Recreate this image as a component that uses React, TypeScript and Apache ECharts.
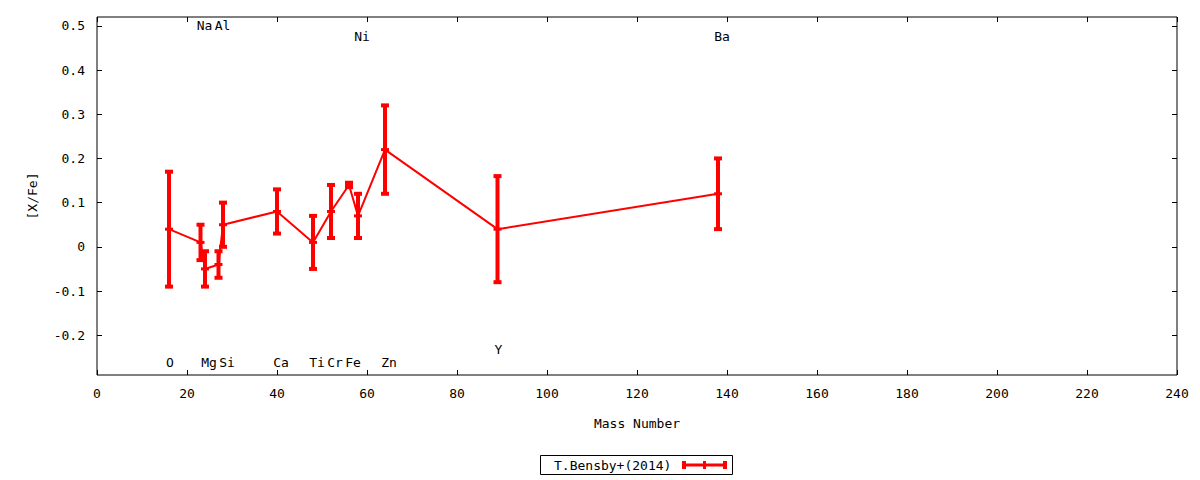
import React, { useEffect, useRef } from "react";
import * as echarts from "echarts";

// ---- data ----
const elements = ["O", "Na", "Mg", "Al", "Si", "Ca", "Ti", "Cr", "Fe", "Ni", "Zn", "Y", "Ba"];
const massNumbers = [16, 23, 24, 27, 28, 40, 48, 52, 56, 58, 64, 89, 138];
const xFe = [0.04, 0.01, -0.05, -0.04, 0.05, 0.08, 0.01, 0.08, 0.14, 0.07, 0.22, 0.04, 0.12];
const xFeErr = [0.13, 0.04, 0.04, 0.03, 0.05, 0.05, 0.06, 0.06, 0.005, 0.05, 0.1, 0.12, 0.08];
// element label positions (x = mass number, y = [X/Fe] coordinate of the label)
const labelY = [-0.262, 0.5, -0.262, 0.5, -0.262, -0.262, -0.262, -0.262, -0.262, 0.475, -0.262, -0.232, 0.475];
const yTicks = [-0.2, -0.1, 0, 0.1, 0.2, 0.3, 0.4, 0.5];
const seriesName = "T.Bensby+(2014)";

const FONT = "DejaVu Sans Mono";
const FS = 13;
const RED = "#ff0000";

export default function App() {
  const ref = useRef<HTMLDivElement>(null);
  useEffect(() => {
    if (!ref.current) return;
    const chart = echarts.init(ref.current, null, { renderer: "svg" });
    const pts = massNumbers.map((m, i) => [m, xFe[i], xFeErr[i]]);
    const lbls = massNumbers.map((m, i) => [m, labelY[i], i]);
    const yFmt = (v: number) => (Math.abs(v) < 1e-9 ? "0" : String(Math.round(v * 10) / 10));
    const tick = { show: true, inside: true, length: 5, lineStyle: { color: "#000" } };
    const option: any = {
      animation: false,
      backgroundColor: "#ffffff",
      textStyle: { fontFamily: FONT, fontSize: FS, color: "#000" },
      grid: {
        left: 97,
        right: 23,
        top: 17,
        bottom: 105,
        show: true,
        borderColor: "#000",
        borderWidth: 1,
        backgroundColor: "transparent",
      },
      xAxis: [
        {
          type: "value",
          min: 0,
          max: 240,
          interval: 20,
          position: "bottom",
          name: "Mass Number",
          nameLocation: "middle",
          nameGap: 42,
          nameTextStyle: { fontFamily: FONT, fontSize: FS, color: "#000" },
          axisLine: { show: false, onZero: false },
          axisTick: tick,
          axisLabel: { margin: 12, fontFamily: FONT, fontSize: FS, color: "#000" },
          splitLine: { show: false },
        },
        {
          type: "value",
          min: 0,
          max: 240,
          interval: 20,
          position: "top",
          axisLine: { show: false, onZero: false },
          axisTick: tick,
          axisLabel: { show: false },
          splitLine: { show: false },
        },
      ],
      yAxis: [
        {
          type: "value",
          min: -0.29,
          max: 0.52,
          position: "left",
          name: "[X/Fe]",
          nameLocation: "middle",
          nameGap: 58,
          nameRotate: 90,
          nameTextStyle: { fontFamily: FONT, fontSize: FS, color: "#000" },
          axisLine: { show: false, onZero: false },
          axisTick: { ...tick, customValues: yTicks },
          axisLabel: { margin: 12, customValues: yTicks, formatter: yFmt, fontFamily: FONT, fontSize: FS, color: "#000" },
          splitLine: { show: false },
        },
        {
          type: "value",
          min: -0.29,
          max: 0.52,
          position: "right",
          axisLine: { show: false, onZero: false },
          axisTick: { ...tick, customValues: yTicks },
          axisLabel: { show: false, customValues: yTicks },
          splitLine: { show: false },
        },
      ],
      series: [
        {
          name: seriesName,
          type: "line",
          xAxisIndex: 0,
          yAxisIndex: 0,
          data: pts.map((p) => [p[0], p[1]]),
          symbol: "none",
          lineStyle: { color: RED, width: 2 },
          z: 2,
        },
        {
          type: "custom",
          xAxisIndex: 0,
          yAxisIndex: 0,
          data: pts,
          z: 3,
          renderItem: (params: any, api: any) => {
            const x = api.value(0);
            const v = api.value(1);
            const e = api.value(2);
            const c = api.coord([x, v]);
            const hi = api.coord([x, v + e]);
            const lo = api.coord([x, v - e]);
            const st = { stroke: RED, lineWidth: 4 };
            const hw = 4;
            return {
              type: "group",
              children: [
                { type: "line", shape: { x1: c[0], y1: hi[1], x2: c[0], y2: lo[1] }, style: st },
                { type: "line", shape: { x1: c[0] - hw, y1: hi[1], x2: c[0] + hw, y2: hi[1] }, style: st },
                { type: "line", shape: { x1: c[0] - hw, y1: lo[1], x2: c[0] + hw, y2: lo[1] }, style: st },
                { type: "line", shape: { x1: c[0] - hw, y1: c[1], x2: c[0] + hw, y2: c[1] }, style: { stroke: RED, lineWidth: 3 } },
              ],
            };
          },
        },
        {
          type: "custom",
          xAxisIndex: 0,
          yAxisIndex: 0,
          data: lbls,
          z: 4,
          renderItem: (params: any, api: any) => {
            const i = api.value(2);
            const name = elements[i];
            const c = api.coord([api.value(0), api.value(1)]);
            const off = name.length === 1 ? 1 : 4;
            return {
              type: "text",
              x: c[0] + off,
              y: c[1],
              style: {
                text: name,
                align: "center",
                verticalAlign: "middle",
                fontFamily: FONT,
                fontSize: FS,
                fill: "#000",
              },
            };
          },
        },
      ],
      graphic: [
        {
          type: "rect",
          shape: { x: 540.5, y: 455.5, width: 192, height: 19 },
          style: { fill: "#fff", stroke: "#000", lineWidth: 1 },
        },
        {
          type: "text",
          x: 554,
          y: 465,
          style: { text: seriesName, fontFamily: FONT, fontSize: FS, fill: "#000", align: "left", verticalAlign: "middle" },
        },
        {
          type: "line",
          shape: { x1: 684, y1: 465, x2: 725, y2: 465 },
          style: { stroke: RED, lineWidth: 3 },
        },
        {
          type: "line",
          shape: { x1: 684, y1: 461, x2: 684, y2: 469 },
          style: { stroke: RED, lineWidth: 4 },
        },
        {
          type: "line",
          shape: { x1: 725, y1: 461, x2: 725, y2: 469 },
          style: { stroke: RED, lineWidth: 4 },
        },
        {
          type: "line",
          shape: { x1: 704.5, y1: 461, x2: 704.5, y2: 469 },
          style: { stroke: RED, lineWidth: 3 },
        },
      ],
    };
    chart.setOption(option);
    return () => chart.dispose();
  }, []);
  return <div ref={ref} style={{ width: 1200, height: 480, position: "absolute", left: 0, top: 0 }} />;
}
